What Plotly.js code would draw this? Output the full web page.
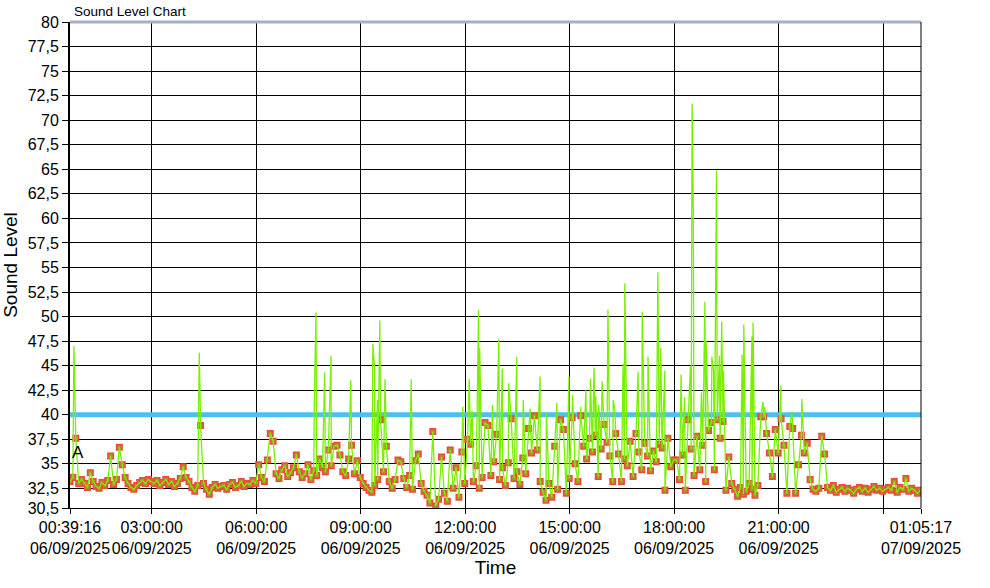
<!DOCTYPE html>
<html>
<head>
<meta charset="utf-8">
<script src="https://cdn.plot.ly/plotly-3.0.1.min.js"></script>
<style>html,body{margin:0;padding:0;background:#fff;}#chart{width:990px;height:588px;}</style>
</head>
<body>
<div id="chart"></div>
<script>
// ---- data ----
const startTime = '2025-09-06 00:39:16';
const endTime = '2025-09-07 01:05:17';
const stepMinutes = 5;
const threshold = 40;

// sampled sound level (every 5 minutes from start)
const levels = [
  33.2, 33.6, 37.6, 33.0, 33.4,
  33.0, 32.6, 34.1, 33.2, 32.7, 32.5, 33.1, 32.8, 33.3, 35.8, 32.9, 33.4,
  36.7, 34.9, 33.6, 33.0, 32.6, 32.4, 32.8, 33.1, 33.3, 33.0, 33.4, 33.2,
  33.0, 33.3, 32.8, 33.1, 33.4, 32.9, 33.2, 32.7, 33.0, 33.5, 34.7, 33.6,
  33.2, 32.6, 32.2, 32.8, 38.9, 33.0, 32.4, 31.9, 32.6, 32.9, 32.5, 32.7,
  32.8, 32.4, 32.9, 33.1, 32.6, 32.8, 33.2, 32.7, 33.0, 32.9, 33.3, 33.0,
  34.9, 33.6, 33.2, 35.4, 38.1, 37.3, 34.0, 33.5, 34.4, 34.8, 33.7, 34.1,
  34.6, 35.9, 34.2, 33.6, 34.0, 34.9, 33.4, 34.3, 33.8, 35.5, 34.6, 34.2,
  36.4, 34.8, 36.8, 36.9, 35.9, 34.2, 33.8, 35.5, 36.9, 34.0, 35.3, 33.6,
  33.0, 32.6, 32.3, 32.1, 32.8, 33.4, 39.5, 34.2, 36.8, 33.2, 32.5, 33.4,
  35.4, 35.2, 33.5, 32.6, 33.8, 32.4, 35.3, 36.0, 33.0, 32.2, 31.8, 31.0,
  38.3, 30.7, 31.4, 35.7, 32.0, 31.2, 36.4, 32.5, 34.6, 31.6, 36.2, 33.0,
  37.5, 37.0, 33.2, 34.8, 32.5, 33.6, 39.2, 38.9, 33.8, 35.2, 38.0, 33.4,
  34.6, 32.8, 35.1, 39.6, 33.5, 34.2, 32.9, 35.6, 34.0, 38.6, 36.1, 39.9,
  36.4, 33.2, 32.1, 31.3, 33.0, 31.6, 36.8, 32.4, 39.5, 38.5, 32.0, 33.5,
  39.7, 35.0, 33.2, 39.9, 36.8, 35.5, 37.6, 36.2, 37.9, 33.7, 36.5, 39.0,
  37.2, 35.8, 33.2, 38.1, 36.0, 33.2, 35.5, 34.8, 37.3, 33.7, 38.1, 36.2,
  34.4, 37.1, 35.8, 34.3, 36.3, 35.2, 37.0, 36.6, 32.3, 37.6, 34.7, 35.4,
  35.4, 33.4, 35.9, 32.3, 39.5, 36.5, 33.8, 37.8, 34.4, 36.9, 33.2, 38.4,
  39.2, 34.4, 39.5, 37.6, 39.3, 32.3, 35.7, 33.0, 32.4, 31.7, 32.6, 31.9,
  32.2, 33.0, 32.4, 31.8, 32.8, 39.8, 39.8, 38.1, 36.1, 33.7, 38.5, 36.1,
  39.6, 36.9, 32.0, 38.8, 38.6, 32.0, 34.9, 37.9, 36.1, 37.1, 33.4, 32.4,
  32.2, 32.5, 37.8, 36.0, 32.6, 32.3, 32.8, 32.1, 32.4, 32.6, 32.2, 32.5,
  32.3, 32.0, 32.4, 32.6, 32.2, 32.5, 32.1, 32.4, 32.7, 32.3, 32.5, 32.2,
  32.4, 32.6, 32.3, 33.2, 32.1, 32.6, 32.4, 33.5, 32.2, 32.5, 32.3, 32.0, 32.3
];

// short peaks (06/09/2025) drawn by the green line only
const peakTimes = [
  '00:46','04:22','07:40','07:43','07:58','08:09','08:43','09:21','09:24','09:29',
  '09:33','09:42','10:27','11:56','12:07','12:12','12:23','12:25','12:47','12:58',
  '13:04','13:15','13:29','13:40','13:52','14:09','14:20','14:38','14:59','15:05',
  '15:19','15:28','15:36','15:42','15:45','15:50','15:56','16:06','16:15','16:18',
  '16:32','16:35','16:58','17:05','17:15','17:32','17:37','17:44','18:12','18:18',
  '18:28','18:31','18:33','18:47','18:53','18:55','18:58','19:05','19:08','19:13',
  '19:14','19:18','19:22','19:25','19:57','20:00','20:14','20:16','20:33','20:36',
  '21:04','21:23','21:40'
];
const peakLevels = [
  47.0, 46.3, 40.7, 50.4, 44.3, 46.0, 43.5, 47.2, 44.7, 41.5,
  49.6, 43.6, 43.6, 40.8, 43.6, 40.4, 50.7, 46.8, 41.0, 47.7,
  44.7, 43.2, 45.9, 41.5, 40.6, 43.9, 40.2, 41.2, 43.9, 42.0,
  40.8, 42.5, 43.7, 44.8, 41.9, 41.0, 43.4, 50.7, 41.5, 40.5,
  45.2, 53.4, 44.4, 50.5, 45.9, 54.5, 46.8, 44.5, 44.1, 41.8,
  44.9, 71.7, 60.9, 42.3, 51.5, 47.5, 41.8, 45.9, 44.4, 64.9,
  51.0, 46.0, 49.5, 44.5, 46.1, 49.2, 48.0, 49.4, 41.3, 40.8,
  43.0, 40.3, 41.6
];

const yTickVals = [30.5, 32.5, 35, 37.5, 40, 42.5, 45, 47.5, 50, 52.5, 55, 57.5, 60, 62.5, 65, 67.5, 70, 72.5, 75, 77.5, 80];
const yTickText = ['30,5','32,5','35','37,5','40','42,5','45','47,5','50','52,5','55','57,5','60','62,5','65','67,5','70','72,5','75','77,5','80'];
const xTickVals = ['2025-09-06 00:39:16','2025-09-06 03:00:00','2025-09-06 06:00:00','2025-09-06 09:00:00','2025-09-06 12:00:00','2025-09-06 15:00:00','2025-09-06 18:00:00','2025-09-06 21:00:00','2025-09-07 00:00:00','2025-09-07 01:05:17'];
const xTickTimes = ['00:39:16','03:00:00','06:00:00','09:00:00','12:00:00','15:00:00','18:00:00','21:00:00','','01:05:17'];
const xTickDates = ['06/09/2025','06/09/2025','06/09/2025','06/09/2025','06/09/2025','06/09/2025','06/09/2025','06/09/2025','','07/09/2025'];

// ---- helpers ----
function toMs(s) {
  const [d, t] = s.split(' ');
  const [Y, M, D] = d.split('-').map(Number);
  const [h, m, sec] = t.split(':').map(Number);
  return Date.UTC(Y, M - 1, D, h, m, sec || 0);
}
function p2(n) { return String(n).padStart(2, '0'); }
function fmt(ms) {
  const d = new Date(ms);
  return d.getUTCFullYear() + '-' + p2(d.getUTCMonth() + 1) + '-' + p2(d.getUTCDate()) + ' ' +
    p2(d.getUTCHours()) + ':' + p2(d.getUTCMinutes()) + ':' + p2(d.getUTCSeconds());
}

const t0 = toMs(startTime);
const sampleMs = levels.map((v, i) => t0 + i * stepMinutes * 60000);
const sampleX = sampleMs.map(fmt);

const merged = levels.map((v, i) => ({ t: sampleMs[i], v: v }))
  .concat(peakTimes.map((s, i) => ({ t: toMs('2025-09-06 ' + s + ':00'), v: peakLevels[i] })))
  .sort((a, b) => a.t - b.t);

const font = 'Liberation Sans, Arial, sans-serif';

const traces = [
  {
    x: [startTime, endTime], y: [threshold, threshold], type: 'scatter', mode: 'lines', showlegend: false, hoverinfo: 'skip',
    line: { color: '#4DBFF0', width: 5 }, cliponaxis: true
  },
  {
    x: sampleX, y: levels, type: 'scatter', mode: 'markers', showlegend: false, hoverinfo: 'skip',
    marker: { symbol: 'square', size: 5.5, color: '#A99428', line: { color: '#EE4A3A', width: 1.5 } }
  },
  {
    x: merged.map(p => fmt(p.t)), y: merged.map(p => p.v), type: 'scatter', mode: 'lines', showlegend: false,
    line: { color: '#78F000', width: 1.3 }
  }
];

const layout = {
  width: 990, height: 588,
  margin: { l: 70, r: 69, t: 22, b: 80, pad: 0 },
  paper_bgcolor: '#ffffff', plot_bgcolor: '#ffffff',
  font: { family: font, color: '#000000' },
  title: { text: 'Sound Level Chart', font: { family: font, size: 13.5, color: '#000' }, x: 74 / 990, xanchor: 'left', xref: 'container', y: 1 - 11 / 588, yanchor: 'middle', yref: 'container' },
  xaxis: {
    type: 'date', range: [startTime, endTime],
    tickmode: 'array', tickvals: xTickVals,
    ticktext: xTickTimes.map((t, i) => t ? t + '<br>' + xTickDates[i] : ''),
    tickangle: 0,
    ticks: 'outside', ticklen: 5, tickcolor: '#000', tickwidth: 1,
    showgrid: true, gridcolor: '#000', gridwidth: 1,
    showline: true, linecolor: '#000', linewidth: 1, zeroline: false,
    tickfont: { family: font, size: 16, color: '#000' },
    title: { text: 'Time', font: { family: font, size: 19, color: '#000' }, standoff: 4 }
  },
  yaxis: {
    range: [30.5, 80], tickmode: 'array', tickvals: yTickVals, ticktext: yTickText,
    ticks: 'outside', ticklen: 6, tickcolor: '#000', tickwidth: 1,
    showgrid: true, gridcolor: '#000', gridwidth: 1,
    showline: true, linecolor: '#000', linewidth: 2, zeroline: false,
    tickfont: { family: font, size: 16, color: '#000' },
    title: { text: 'Sound Level', font: { family: font, size: 19, color: '#000' }, standoff: 6 }
  },
  shapes: [
    { type: 'line', xref: 'paper', yref: 'paper', x0: 0, x1: 1, y0: 1, y1: 1, layer: 'above', line: { color: '#A6AFC3', width: 3 } },
    { type: 'line', xref: 'paper', yref: 'paper', x0: 1, x1: 1, y0: 0, y1: 1, layer: 'above', line: { color: '#000', width: 1 } }
  ],
  annotations: [
    { x: sampleX[0], y: levels[0], xref: 'x', yref: 'y', text: 'A', showarrow: false, xanchor: 'left', yanchor: 'bottom', xshift: 0, yshift: 17, font: { family: font, size: 17, color: '#000' } }
  ]
};

Plotly.newPlot('chart', traces, layout, { displayModeBar: false, staticPlot: true });
</script>
</body>
</html>
